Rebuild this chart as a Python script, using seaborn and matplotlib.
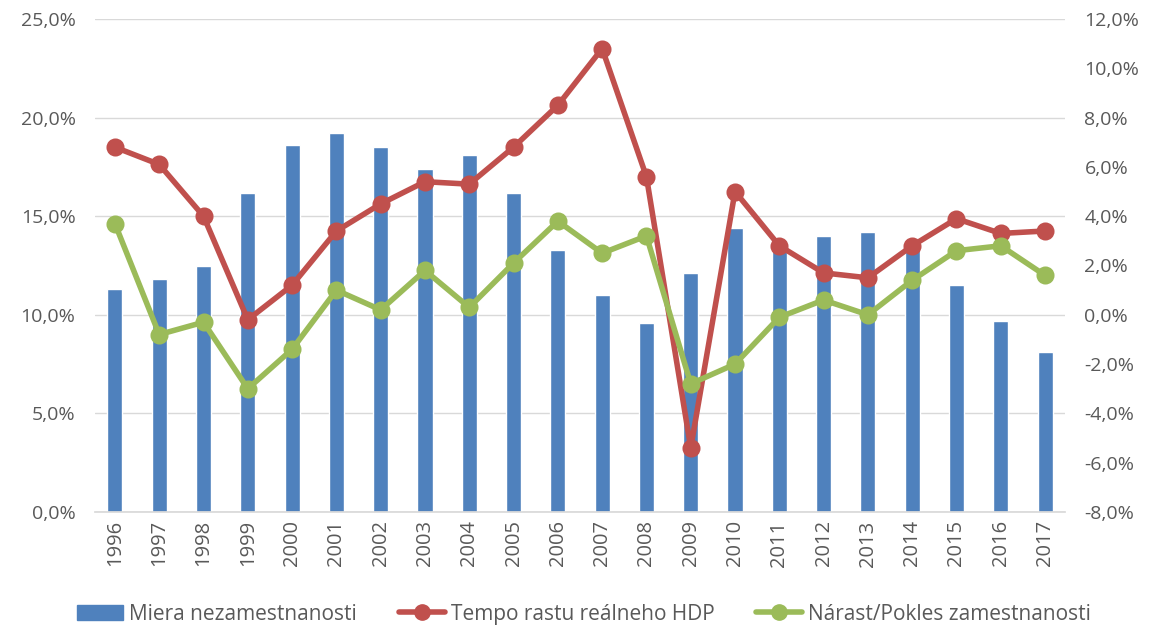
import matplotlib
matplotlib.use("Agg")
import matplotlib.pyplot as plt
import seaborn as sns
import pandas as pd
import numpy as np
from matplotlib.ticker import FuncFormatter, MultipleLocator
from matplotlib.lines import Line2D
from matplotlib.patches import Patch

years = [str(y) for y in range(1996, 2018)]
unemployment = [11.3, 11.8, 12.5, 16.2, 18.6, 19.2, 18.5, 17.4, 18.1, 16.2, 13.3,
                11.0, 9.6, 12.1, 14.4, 13.5, 14.0, 14.2, 13.3, 11.5, 9.7, 8.1]
gdp_growth = [6.8, 6.1, 4.0, -0.2, 1.2, 3.4, 4.5, 5.4, 5.3, 6.8, 8.5,
              10.8, 5.6, -5.4, 5.0, 2.8, 1.7, 1.5, 2.8, 3.9, 3.3, 3.4]
employment = [3.7, -0.8, -0.3, -3.0, -1.4, 1.0, 0.2, 1.8, 0.3, 2.1, 3.8,
              2.5, 3.2, -2.8, -2.0, -0.1, 0.6, 0.0, 1.4, 2.6, 2.8, 1.6]

labels = ["Miera nezamestnanosti", "Tempo rastu reálneho HDP", "Nárast/Pokles zamestnanosti"]
c_bar, c_red, c_green = "#4F81BD", "#C0504D", "#9BBB59"

df = pd.DataFrame({"year": years, "unemp": unemployment, "gdp": gdp_growth, "emp": employment})

sns.set_theme(style="white")
plt.rcParams["font.family"] = ["Open Sans", "DejaVu Sans"]
txt = "#595959"

fig = plt.figure(figsize=(11.57, 6.28), dpi=100)
ax = fig.add_axes([95/1157, 1-512/628, (1065-95)/1157, (512-19)/628])
ax2 = ax.twinx()

sns.barplot(data=df, x="year", y="unemp", color=c_bar, width=0.34, ax=ax, saturation=1)
ax.set_ylim(0, 25)
ax.yaxis.set_major_locator(MultipleLocator(5))
ax.yaxis.set_major_formatter(FuncFormatter(lambda v, p: f"{v:.1f}%".replace(".", ",")))
ax.grid(axis="y", color="#D9D9D9", linewidth=1)
ax.set_axisbelow(True)
ax.set_xlim(-0.45, len(years) - 0.55)

sns.pointplot(data=df, x="year", y="gdp", color=c_red, ax=ax2, markers="o",
              markersize=10, linewidth=4)
sns.pointplot(data=df, x="year", y="emp", color=c_green, ax=ax2, markers="o",
              markersize=10, linewidth=4)
ax2.set_ylim(-8, 12)
ax2.yaxis.set_major_locator(MultipleLocator(2))
ax2.yaxis.set_major_formatter(FuncFormatter(lambda v, p: f"{v:.1f}%".replace(".", ",")))
ax2.set_xlim(-0.45, len(years) - 0.55)

for a in (ax, ax2):
    a.set_xlabel("")
    a.set_ylabel("")
    for s in a.spines.values():
        s.set_visible(False)
    a.tick_params(axis="y", length=0, labelsize=14, labelcolor=txt, pad=14)
ax.spines["bottom"].set_visible(True)
ax.spines["bottom"].set_color("#D9D9D9")
ax.tick_params(axis="x", length=0, labelsize=14.5, labelcolor=txt, labelrotation=90, pad=6)
ax2.tick_params(axis="x", length=0, labelbottom=False)

handles = [Patch(facecolor=c_bar, edgecolor=c_bar),
           Line2D([0], [0], color=c_red, lw=4, marker="o", markersize=11),
           Line2D([0], [0], color=c_green, lw=4, marker="o", markersize=11)]
fig.legend(handles, labels, loc="center", bbox_to_anchor=(0.505, 0.022), ncol=3,
           frameon=False, fontsize=15, labelcolor=txt, handlelength=2.2,
           handletextpad=0.3, columnspacing=2.0)

fig.savefig("out.png", dpi=100)
